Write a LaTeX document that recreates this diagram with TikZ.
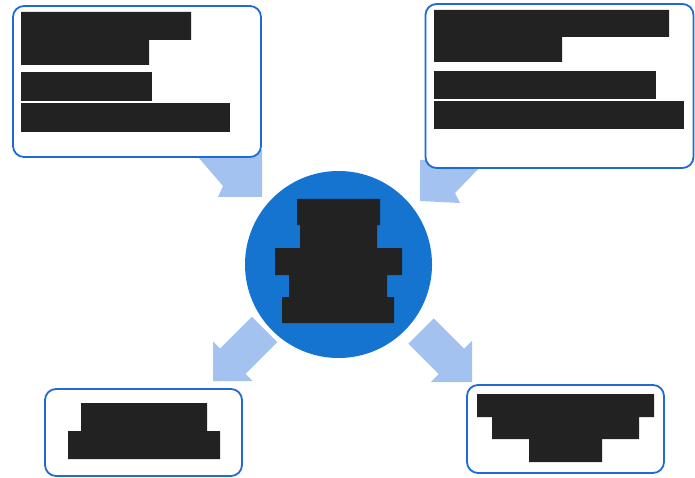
\documentclass[tikz,border=0pt]{standalone}
\usetikzlibrary{shapes.geometric}
\definecolor{boxblue}{RGB}{28,108,212}
\definecolor{circblue}{RGB}{20,116,208}
\definecolor{arrblue}{RGB}{164,194,240}
\definecolor{redact}{RGB}{34,34,34}
\tikzset{
  bubble/.style={draw=boxblue, line width=1.8pt, fill=white, rounded corners=11pt, inner sep=0pt},
  hub/.style={circle, fill=circblue, inner sep=0pt, minimum size=187pt},
  arrfill/.style={fill=arrblue},
  bar/.style={fill=redact}
}
\newcommand\blockarr[6]{%
  \fill[arrfill, shift={(#1,#2)}, rotate=#3]
    (0,0) -- (-#4,#4) -- (-#4,#5) -- (-#6,#5) -- (-#6,-#5) -- (-#4,-#5) -- (-#4,-#4) -- cycle;}
\begin{document}
\begin{tikzpicture}[x=1pt,y=-1pt]
\useasboundingbox (0,0) rectangle (695,478);
% block arrows
\fill[arrfill] (192,150) -- (223,186) -- (218,197) -- (262,197) -- (262,150) -- cycle;
\fill[arrfill] (420,160) -- (420,201) -- (460,203) -- (455,193) -- (487,160) -- cycle;
\blockarr{213}{381}{-135}{28}{18}{73}
\blockarr{472}{382}{-45}{29}{18}{72}
% boxes
\node[bubble, minimum width=248pt, minimum height=151pt] (tl) at (137,81.5) {};
\node[bubble, minimum width=268pt, minimum height=164pt] (tr) at (559.5,86) {};
\node[bubble, minimum width=197pt, minimum height=87pt] (bl) at (143.5,432.5) {};
\node[bubble, minimum width=197pt, minimum height=88pt] (br) at (565.5,429) {};
% hub
\node[hub] (c) at (338.5,264.5) {};
% redacted text: hub
\fill[bar] (297,199) -- (380,199) -- (380,225) -- (377,225) -- (377,248) -- (402,248) -- (402,275)
  -- (387,275) -- (387,297) -- (394,297) -- (394,323) -- (282,323) -- (282,297) -- (289,297)
  -- (289,275) -- (275,275) -- (275,248) -- (300,248) -- (300,225) -- (297,225) -- cycle;
% redacted text: top-left box
\fill[bar] (21,12) -- (191,12) -- (191,40) -- (149,40) -- (149,65) -- (21,65) -- cycle;
\fill[bar] (21,72) rectangle (152,101);
\fill[bar] (21,103) rectangle (230,132);
% redacted text: top-right box
\fill[bar] (434,10) -- (669,10) -- (669,37) -- (562,37) -- (562,62) -- (434,62) -- cycle;
\fill[bar] (434,71) rectangle (656,99);
\fill[bar] (434,101) rectangle (684,129);
% redacted text: bottom-left box
\fill[bar] (81,403) -- (207,403) -- (207,431) -- (220,431) -- (220,459) -- (68,459) -- (68,431) -- (81,431) -- cycle;
% redacted text: bottom-right box
\fill[bar] (477,394) -- (654,394) -- (654,417) -- (639,417) -- (639,439) -- (602,439) -- (602,462)
  -- (529,462) -- (529,439) -- (492,439) -- (492,417) -- (477,417) -- cycle;
\end{tikzpicture}
\end{document}
